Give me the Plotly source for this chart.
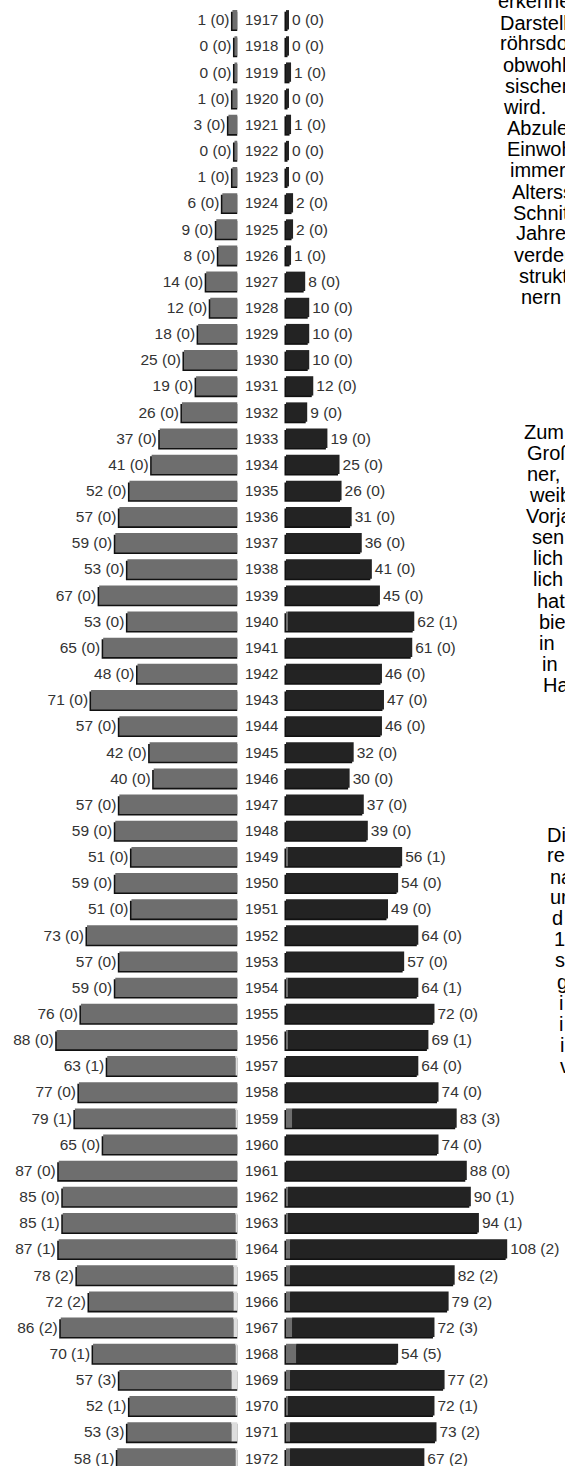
import plotly.graph_objects as go

# ---------------- data ----------------
years = list(range(1917, 1973))
left_total = [1, 0, 0, 1, 3, 0, 1, 6, 9, 8, 14, 12, 18, 25, 19, 26, 37, 41, 52, 57,
              59, 53, 67, 53, 65, 48, 71, 57, 42, 40, 57, 59, 51, 59, 51, 73, 57, 59,
              76, 88, 63, 77, 79, 65, 87, 85, 85, 87, 78, 72, 86, 70, 57, 52, 53, 58]
left_part = [0, 0, 0, 0, 0, 0, 0, 0, 0, 0, 0, 0, 0, 0, 0, 0, 0, 0, 0, 0,
             0, 0, 0, 0, 0, 0, 0, 0, 0, 0, 0, 0, 0, 0, 0, 0, 0, 0,
             0, 0, 1, 0, 1, 0, 0, 0, 1, 1, 2, 2, 2, 1, 3, 1, 3, 1]
right_total = [0, 0, 1, 0, 1, 0, 0, 2, 2, 1, 8, 10, 10, 10, 12, 9, 19, 25, 26, 31,
               36, 41, 45, 62, 61, 46, 47, 46, 32, 30, 37, 39, 56, 54, 49, 64, 57, 64,
               72, 69, 64, 74, 83, 74, 88, 90, 94, 108, 82, 79, 72, 54, 77, 72, 73, 67]
right_part = [0, 0, 0, 0, 0, 0, 0, 0, 0, 0, 0, 0, 0, 0, 0, 0, 0, 0, 0, 0,
              0, 0, 0, 1, 0, 0, 0, 0, 0, 0, 0, 0, 1, 0, 0, 0, 0, 1,
              0, 1, 0, 0, 3, 0, 0, 1, 1, 2, 2, 2, 3, 5, 2, 1, 2, 2]

# wrapped page text beside the chart (visible fragments, cut at the page edge)
side_text = ["erkennen", "Darstellung", "röhrsdorf", "obwohl", "sischen", "wird.",
             "Abzulesen", "Einwohner", "immer", "Altersstruktur", "Schnitt", "Jahren",
             "verdeutlicht", "struktur", "nern",
             "Zum", "Großröhrsdorf", "ner,", "weiblich", "Vorjahr", "sen", "lich",
             "lich", "hat", "bie", "in", "in", "Ha",
             "Di", "re", "na", "ur", "d", "1", "s", "g", "i", "i", "i", "v"]
side_x = [498, 500, 500, 502.5, 505, 503, 507, 507, 510, 511.5, 513, 515.5,
          514, 518.5, 521,
          524, 526.5, 526.5, 529, 526, 532, 533, 533, 537, 539, 539, 542, 542.5,
          547, 547, 550, 550, 552, 554, 555, 556.5, 559, 559, 559.5, 559.5]
side_y = [1.5, 22.7, 43.5, 65, 86, 106.7, 128.3, 149.3, 170, 191.7, 212.7, 233.3,
          255, 276, 297.3,
          431.7, 452.7, 474, 495, 516, 537, 558, 579, 601, 622, 643, 664, 685,
          835, 855, 876.7, 897, 918, 939, 960, 981.7, 1002.7, 1023.7, 1045, 1066]

# ---------------- styling / geometry ----------------
W, H = 565, 1466
PXU = 2.02          # pixels per person
PAD = 1.5           # minimum bar stub
SHX = 0.75          # shadow shift (x, units)
BAR_W = 0.74
SH_DY = 0.06
LEFT_INNER = 237.5
RIGHT_INNER = 286.0
FONT = "Liberation Sans, Arial, Helvetica, sans-serif"

C_LEFT = "#6e6e6e"
C_LEFT_PART = "#dddddd"
C_RIGHT = "#232323"
C_RIGHT_PART = "#6e6e6e"
C_SHADOW = "#111111"
C_TEXT = "#333333"

fig = go.Figure()

def add_side(total, part, xa, main_col, part_col, shadow_base):
    ext = [PAD + t for t in total]
    # shadow
    fig.add_trace(go.Bar(
        y=years, x=[e + (SHX if shadow_base == 0 else 0) for e in ext],
        base=[shadow_base] * len(years), orientation="h",
        width=BAR_W, offset=-BAR_W / 2 + SH_DY,
        marker=dict(color=C_SHADOW, line=dict(width=0)),
        xaxis=xa, yaxis="y", hoverinfo="skip", showlegend=False))
    # main segment with value label
    fig.add_trace(go.Bar(
        y=years, x=[e - p for e, p in zip(ext, part)], base=part, orientation="h",
        width=BAR_W, offset=-BAR_W / 2,
        marker=dict(color=main_col, line=dict(width=0)),
        text=[f"{t} ({p})" for t, p in zip(total, part)],
        textposition="outside", constraintext="none", cliponaxis=False,
        textfont=dict(family=FONT, size=15.5, color=C_TEXT),
        xaxis=xa, yaxis="y", hoverinfo="skip", showlegend=False))
    # inner part segment
    fig.add_trace(go.Bar(
        y=years, x=part, base=[0] * len(years), orientation="h",
        width=BAR_W, offset=-BAR_W / 2,
        marker=dict(color=part_col, line=dict(width=0)),
        xaxis=xa, yaxis="y", hoverinfo="skip", showlegend=False))

add_side(left_total, left_part, "x", C_LEFT, C_LEFT_PART, 0)
add_side(right_total, right_part, "x2", C_RIGHT, C_RIGHT_PART, -SHX)

annotations = []
for yr in years:
    annotations.append(dict(x=(LEFT_INNER + RIGHT_INNER) / 2 / W, xref="paper",
                            y=yr, yref="y", text=str(yr), showarrow=False,
                            xanchor="center", yanchor="middle",
                            font=dict(family=FONT, size=15, color=C_TEXT)))
for t, px, py in zip(side_text, side_x, side_y):
    annotations.append(dict(x=(px - 2) / W, xref="paper", y=1 - py / H, yref="paper",
                            text=t, showarrow=False, xanchor="left", yanchor="middle",
                            font=dict(family=FONT, size=20, color="#000000")))

top_val = 1917 - 19.8 / 26.15
bot_val = top_val + H / 26.15

fig.update_layout(
    width=W, height=H, margin=dict(l=0, r=0, t=0, b=0),
    paper_bgcolor="white", plot_bgcolor="white",
    barmode="overlay", showlegend=False,
    xaxis=dict(domain=[0, LEFT_INNER / W], range=[LEFT_INNER / PXU, 0],
               visible=False, fixedrange=True),
    xaxis2=dict(domain=[(RIGHT_INNER - 2 * PXU) / W, 1],
                range=[-2, (W - RIGHT_INNER) / PXU], visible=False, fixedrange=True),
    yaxis=dict(range=[bot_val, top_val], visible=False, fixedrange=True),
    annotations=annotations,
)

fig.write_html("out.html", config={"displayModeBar": False},
               post_script="document.body.style.margin='0';document.body.style.overflow='hidden';")
